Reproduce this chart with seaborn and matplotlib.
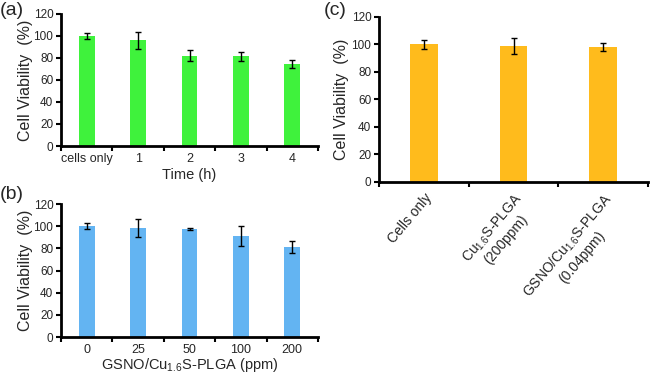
import matplotlib
matplotlib.use("Agg")
import matplotlib.pyplot as plt
import seaborn as sns
import numpy as np

# ---- data ----
cats_a = ["cells only", "1", "2", "3", "4"]
vals_a = [100, 96, 82, 81.5, 74.5]
err_a = [2.5, 8, 5, 4, 3.5]

cats_b = ["0", "25", "50", "100", "200"]
vals_b = [100, 98.5, 97.5, 91, 81.5]
err_b = [2.5, 8, 1.2, 9, 5.5]

cats_c = ["Cells only",
          "Cu$_{\\mathregular{1.6}}$S-PLGA\n(200ppm)",
          "GSNO/Cu$_{\\mathregular{1.6}}$S-PLGA\n(0.04ppm)"]
vals_c = [100, 99, 98]
err_c = [3, 6, 3]

yticks = [0, 20, 40, 60, 80, 100, 120]

sns.set_theme(style="white")
plt.rcParams["font.family"] = ["Liberation Sans", "DejaVu Sans"]
plt.rcParams["mathtext.fontset"] = "custom"
plt.rcParams["mathtext.rm"] = "Liberation Sans"
plt.rcParams["mathtext.it"] = "Liberation Sans:italic"
plt.rcParams["mathtext.bf"] = "Liberation Sans:bold"

fig = plt.figure(figsize=(6.51, 3.76), dpi=100)
ax_a = fig.add_axes([0.0937, 0.6117, 0.3948, 0.3511])
ax_b = fig.add_axes([0.0937, 0.1037, 0.3948, 0.3537])
ax_c = fig.add_axes([0.5822, 0.516, 0.4132, 0.4388])


def style(ax, cats, vals, errs, color, width):
    sns.barplot(x=list(range(len(cats))), y=vals, color=color, width=width,
                ax=ax, saturation=1, edgecolor="none")
    ax.errorbar(list(range(len(cats))), vals, yerr=errs, fmt="none",
                ecolor="black", elinewidth=1.0, capsize=2.2, capthick=1.0)
    ax.set_ylim(0, 120)
    ax.set_xlim(-0.5, len(cats) - 0.5)
    ax.set_yticks(yticks)
    ax.set_yticklabels([str(t) for t in yticks], fontsize=8.5)
    ax.set_xticks(range(len(cats)))
    ax.set_xticks(np.arange(-0.5, len(cats), 1.0), minor=True)
    ax.tick_params(axis="x", which="major", length=0, pad=5)
    ax.tick_params(axis="x", which="minor", length=3.5, width=1.5,
                   direction="out", color="black", bottom=True)
    ax.tick_params(axis="y", length=3.5, width=1.5, direction="out",
                   color="black", left=True, pad=2)
    for s in ["top", "right"]:
        ax.spines[s].set_visible(False)
    for s in ["left", "bottom"]:
        ax.spines[s].set_color("black")
        ax.spines[s].set_linewidth(2.0)
    ax.set_ylabel("Cell Viability  (%)", fontsize=11.5, labelpad=0)


style(ax_a, cats_a, vals_a, err_a, "#3ff23c", 0.31)
ax_a.set_xticklabels(cats_a, fontsize=9)
ax_a.set_xlabel("Time (h)", fontsize=10.5, labelpad=2)

style(ax_b, cats_b, vals_b, err_b, "#63b4f2", 0.31)
ax_b.set_xticklabels(cats_b, fontsize=9)
ax_b.set_xlabel("GSNO/Cu$_{\\mathregular{1.6}}$S-PLGA (ppm)", fontsize=10.5, labelpad=0)

style(ax_c, cats_c, vals_c, err_c, "#ffbb1c", 0.31)
ax_c.set_xticklabels(cats_c, fontsize=10, rotation=50, ha="right",
                     rotation_mode="anchor", multialignment="center")
ax_c.tick_params(axis="x", which="major", pad=6)
ax_c.set_ylabel("Cell Viability  (%)", fontsize=11.5, labelpad=2)

fig.text(0.0, 0.995, "(a)", fontsize=14, va="top", ha="left")
fig.text(0.0, 0.505, "(b)", fontsize=14, va="top", ha="left")
fig.text(0.498, 0.995, "(c)", fontsize=14, va="top", ha="left")

fig.savefig("out.png", dpi=100)
